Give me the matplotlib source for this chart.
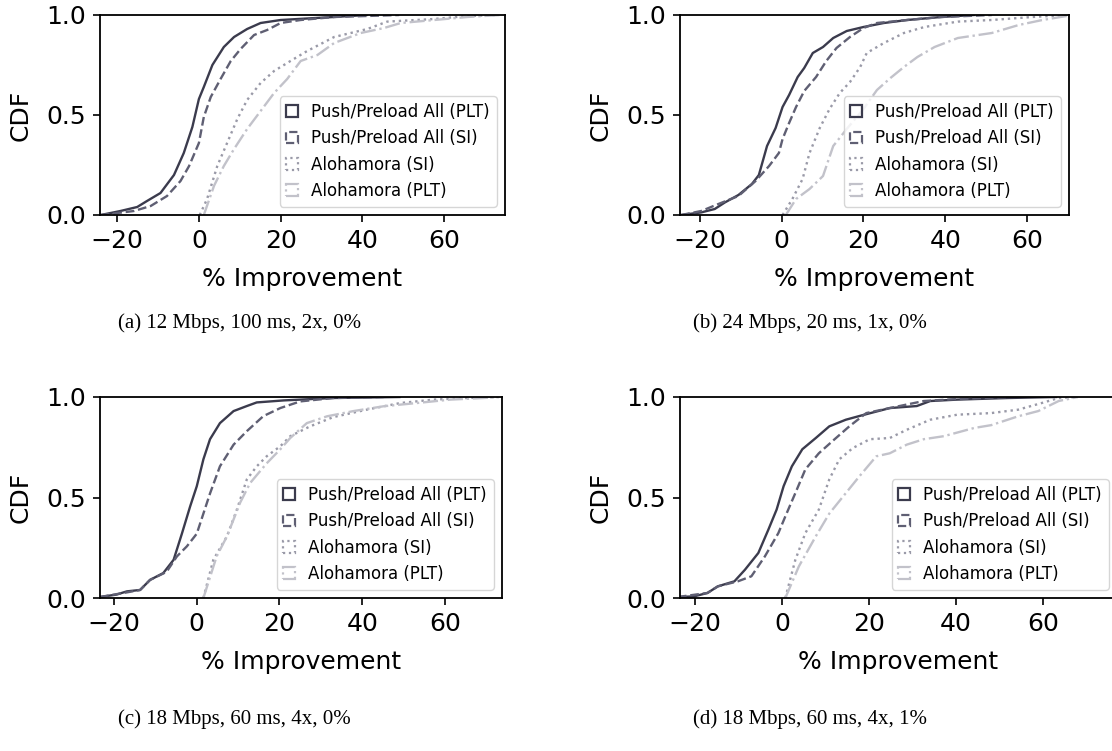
import matplotlib
matplotlib.use("Agg")
import matplotlib.pyplot as plt
from matplotlib.patches import Patch

# CDF points: x = % improvement, y = cumulative fraction
labels = ["Push/Preload All (PLT)", "Push/Preload All (SI)",
          "Alohamora (SI)", "Alohamora (PLT)"]
captions = ["(a) 12 Mbps, 100 ms, 2x, 0%", "(b) 24 Mbps, 20 ms, 1x, 0%",
            "(c) 18 Mbps, 60 ms, 4x, 0%", "(d) 18 Mbps, 60 ms, 4x, 1%"]

# panel (a)
a_push_plt_x = [-24, -19.2, -15.1, -12.7, -9.4, -6.1, -3.7, -1.6, 0, 1.2, 3.3, 6.1, 8.6, 11.8, 15.1, 20, 33, 41]
a_push_plt_y = [0, 0.02, 0.04, 0.07, 0.11, 0.20, 0.31, 0.44, 0.58, 0.64, 0.75, 0.84, 0.89, 0.93, 0.96, 0.975, 0.99, 1.0]
a_push_si_x = [-24, -15.9, -11.8, -7.8, -4.5, -2.4, 0, 1.2, 2.9, 5.3, 7.8, 10.2, 13.5, 16.7, 20, 24.9, 33, 49]
a_push_si_y = [0, 0.02, 0.045, 0.095, 0.17, 0.245, 0.36, 0.49, 0.59, 0.68, 0.77, 0.83, 0.90, 0.925, 0.96, 0.975, 0.99, 1.0]
a_alo_si_x = [0.2, 2.0, 4.5, 6.9, 9.4, 11.8, 15.1, 18.4, 22.4, 26.5, 33.1, 41.2, 46.1, 57.6, 65.7, 73]
a_alo_si_y = [0, 0.08, 0.245, 0.36, 0.48, 0.575, 0.66, 0.72, 0.77, 0.82, 0.89, 0.93, 0.967, 0.98, 0.995, 1.0]
a_alo_plt_x = [1.2, 3.7, 6.1, 8.6, 11.8, 15.1, 18.4, 21.6, 24.9, 29, 33.1, 39.6, 45.3, 49.4, 57.6, 65.7, 73.9]
a_alo_plt_y = [0, 0.146, 0.245, 0.33, 0.43, 0.52, 0.61, 0.68, 0.77, 0.80, 0.86, 0.91, 0.935, 0.96, 0.975, 0.99, 1.0]

# panel (b)
b_push_plt_x = [-24.6, -19.7, -16.4, -13.9, -10.6, -7.3, -5.6, -3.6, -1.5, 0.2, 1.8, 3.9, 5.5, 7.6, 10.1, 12.6, 15.9, 20, 25, 30.7, 39, 47]
b_push_plt_y = [0, 0.013, 0.03, 0.063, 0.10, 0.155, 0.20, 0.345, 0.435, 0.54, 0.60, 0.69, 0.735, 0.81, 0.84, 0.885, 0.92, 0.94, 0.96, 0.975, 0.99, 1.0]
b_push_si_x = [-24.6, -19.7, -15.5, -10.6, -6.4, -3.1, -0.7, 0.2, 1.8, 3.5, 5.5, 8.4, 10.9, 13.4, 16.7, 20, 23.3, 30.7, 39, 51.4]
b_push_si_y = [0, 0.02, 0.055, 0.095, 0.17, 0.245, 0.31, 0.38, 0.46, 0.54, 0.62, 0.69, 0.77, 0.835, 0.89, 0.935, 0.96, 0.975, 0.99, 1.0]
b_alo_si_x = [0.2, 2.6, 5.1, 6.8, 9.3, 11.7, 14.2, 16.7, 19.2, 20.8, 25, 29.9, 34.9, 43.1, 51.4, 61.3, 70]
b_alo_si_y = [0, 0.08, 0.18, 0.31, 0.435, 0.53, 0.61, 0.665, 0.74, 0.81, 0.86, 0.91, 0.94, 0.967, 0.975, 0.99, 1.0]
b_alo_plt_x = [1.0, 3.5, 6.8, 10.1, 12.6, 15.9, 20, 23.3, 26.6, 29.9, 33.2, 37.4, 43.1, 51.4, 58, 63.8, 71.2]
b_alo_plt_y = [0, 0.08, 0.13, 0.195, 0.345, 0.43, 0.53, 0.625, 0.685, 0.74, 0.79, 0.84, 0.885, 0.91, 0.95, 0.975, 1.0]

# panel (c)
c_push_plt_x = [-23.4, -19.4, -16.9, -13.7, -11.3, -8.1, -5.6, -3.6, -1.6, 0, 1.6, 3.2, 5.6, 8.9, 12.1, 14.5, 21, 33, 49]
c_push_plt_y = [0.005, 0.017, 0.033, 0.04, 0.09, 0.124, 0.19, 0.32, 0.456, 0.556, 0.69, 0.79, 0.87, 0.93, 0.955, 0.973, 0.983, 0.995, 1.0]
c_push_si_x = [-23.4, -16.9, -13.7, -11.3, -7.3, -4.8, -2.4, 0, 1.6, 3.2, 5.6, 8.9, 12.1, 16.1, 20.2, 25, 33, 45.2]
c_push_si_y = [0.005, 0.028, 0.04, 0.09, 0.13, 0.207, 0.257, 0.32, 0.42, 0.52, 0.655, 0.763, 0.83, 0.905, 0.945, 0.978, 0.995, 1.0]
c_alo_si_x = [1.6, 4.0, 7.3, 9.7, 12.1, 14.5, 16.9, 20.2, 22.6, 27.4, 33, 41.1, 49.2, 57.3, 65.3, 73]
c_alo_si_y = [0, 0.19, 0.307, 0.44, 0.59, 0.655, 0.705, 0.755, 0.805, 0.854, 0.90, 0.937, 0.97, 0.987, 0.995, 1.0]
c_alo_plt_x = [1.6, 4.8, 7.3, 10.5, 12.9, 16.9, 20.2, 22.6, 26.6, 31.5, 37.9, 45.2, 53.2, 61.3, 69.4, 73]
c_alo_plt_y = [0, 0.207, 0.307, 0.475, 0.572, 0.67, 0.74, 0.796, 0.87, 0.904, 0.93, 0.954, 0.97, 0.987, 0.995, 1.0]

# panel (d)
d_push_plt_x = [-23.9, -20.2, -17.1, -14.7, -10.9, -8.5, -5.4, -3.1, -1.2, 0.4, 2.3, 4.7, 7.8, 10.9, 14.7, 18.6, 24.8, 31, 34.1, 40.3, 52, 63]
d_push_plt_y = [0.005, 0.008, 0.025, 0.058, 0.083, 0.14, 0.224, 0.34, 0.44, 0.556, 0.655, 0.74, 0.796, 0.854, 0.887, 0.91, 0.945, 0.955, 0.98, 0.987, 0.995, 1.0]
d_push_si_x = [-23.9, -17.1, -14.7, -10.1, -7.0, -3.9, -0.8, 0.8, 3.1, 5.4, 8.5, 11.6, 15.5, 19.4, 24.8, 32.6, 40.3, 52]
d_push_si_y = [0.005, 0.025, 0.058, 0.083, 0.108, 0.207, 0.323, 0.406, 0.522, 0.64, 0.72, 0.78, 0.854, 0.92, 0.945, 0.98, 0.99, 1.0]
d_alo_si_x = [0.8, 3.1, 5.4, 8.5, 10.9, 13.2, 16.3, 20.2, 24.8, 28.7, 34.1, 40.3, 48.1, 54.3, 59.7, 63.6, 68]
d_alo_si_y = [0, 0.19, 0.323, 0.44, 0.59, 0.69, 0.746, 0.79, 0.796, 0.837, 0.887, 0.912, 0.92, 0.937, 0.97, 0.995, 1.0]
d_alo_plt_x = [0.8, 3.9, 7.8, 10.9, 14.7, 17.8, 21.7, 24.8, 28.7, 32.6, 37.2, 44.2, 48.1, 54.3, 58.9, 63.6, 68]
d_alo_plt_y = [0, 0.157, 0.307, 0.42, 0.522, 0.605, 0.705, 0.72, 0.763, 0.79, 0.805, 0.846, 0.86, 0.904, 0.93, 0.98, 1.0]

panels = [
    [(a_push_plt_x, a_push_plt_y), (a_push_si_x, a_push_si_y), (a_alo_si_x, a_alo_si_y), (a_alo_plt_x, a_alo_plt_y)],
    [(b_push_plt_x, b_push_plt_y), (b_push_si_x, b_push_si_y), (b_alo_si_x, b_alo_si_y), (b_alo_plt_x, b_alo_plt_y)],
    [(c_push_plt_x, c_push_plt_y), (c_push_si_x, c_push_si_y), (c_alo_si_x, c_alo_si_y), (c_alo_plt_x, c_alo_plt_y)],
    [(d_push_plt_x, d_push_plt_y), (d_push_si_x, d_push_si_y), (d_alo_si_x, d_alo_si_y), (d_alo_plt_x, d_alo_plt_y)],
]
xlims = [(-24.2, 74.9), (-24.9, 70.3), (-23.4, 73.8), (-23.4, 77.0)]

colors = ["#3b3b4d", "#5f5f73", "#9a9aa8", "#c2c2ca"]
styles = ["-", "--", ":", "-."]

W, H = 1112, 751
# axes boxes in pixels: left, top, right, bottom
boxes = [(100, 15, 505, 215), (680, 15, 1069, 215),
         (100, 397, 502, 598), (680, 397, 1117, 598)]
cap_pos = [(118, 328), (693, 328), (118, 724), (693, 724)]

plt.rcParams["font.family"] = "DejaVu Sans"
fig = plt.figure(figsize=(W / 100, H / 100), dpi=100)

for i in range(4):
    l, t, r, b = boxes[i]
    ax = fig.add_axes([l / W, 1 - b / H, (r - l) / W, (b - t) / H])
    for (xs, ys), c, ls in zip(panels[i], colors, styles):
        ax.plot(xs, ys, color=c, linestyle=ls, linewidth=1.7)
    ax.set_xlim(*xlims[i])
    ax.set_ylim(0, 1)
    ax.set_xticks([-20, 0, 20, 40, 60])
    ax.set_yticks([0.0, 0.5, 1.0])
    ax.tick_params(labelsize=18, length=5, width=1.2, pad=5)
    for s in ax.spines.values():
        s.set_linewidth(1.3)
    ax.set_xlabel("% Improvement", fontsize=18, labelpad=10)
    ax.set_ylabel("CDF", fontsize=18, labelpad=10)
    handles = [Patch(facecolor="none", edgecolor=c, linestyle=ls, linewidth=1.6)
               for c, ls in zip(colors, styles)]
    ax.legend(handles, labels, loc="lower right", fontsize=12,
              handlelength=0.7, handleheight=0.7)
    cx, cy = cap_pos[i]
    fig.text(cx / W, 1 - cy / H, captions[i], fontsize=15,
             family="Liberation Serif", ha="left", va="baseline")

fig.savefig("out.png", dpi=100)
